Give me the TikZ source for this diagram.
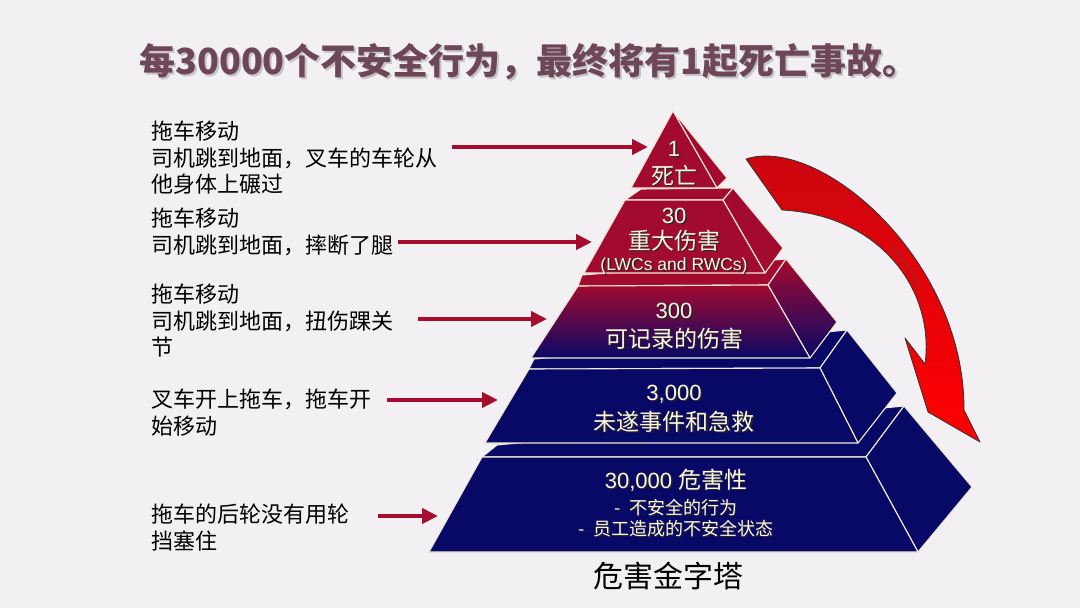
\documentclass[tikz,border=0pt]{standalone}
\usepackage{fontspec}
\setmainfont{Liberation Sans}
\newfontfamily\cjk{Noto Sans CJK SC}
\usepackage{xcolor}
\usetikzlibrary{arrows.meta}
\usetikzlibrary{math}
\definecolor{pagebg}{RGB}{242,240,242}
\definecolor{tierred}{RGB}{163,10,48}
\definecolor{tierblue}{RGB}{8,8,102}
\definecolor{edgecream}{RGB}{240,234,214}
\definecolor{titlemauve}{RGB}{110,70,90}
\definecolor{arrowred}{RGB}{165,12,45}
\definecolor{curvetop}{RGB}{200,6,16}
\definecolor{tiertext}{RGB}{252,248,228}

\tikzset{
  face/.style={draw=edgecream, line width=1.1pt, line join=round},
  pointer/.style={draw=arrowred, line width=4.5pt, -{Triangle[length=16pt,width=15pt]}},
  cause/.style={font=\cjk\fontsize{22}{26.5}\selectfont, align=left, anchor=north west, inner sep=0pt},
  tierlabel/.style={text=tiertext, inner sep=0pt, anchor=base},
  tiershadow/.style={text=black!85, inner sep=0pt, anchor=base, xshift=1.5pt, yshift=-1.5pt},
}
\newcommand{\tiertxt}[4]{%
  \node[tiershadow, font=#3] (#1s) at (#2) {#4};
  \node[tierlabel, font=#3] (#1) at (#2) {#4};}

\begin{document}
\begin{tikzpicture}[x=1pt,y=-1pt]
\tikzmath{
\cx=674;
}
\fill[pagebg] (0,0) rectangle (1080,608);
\useasboundingbox (0,0) rectangle (1080,608);

\node[anchor=base, text=gray!45, font=\cjk\bfseries\fontsize{36}{40}\selectfont, xshift=2pt, yshift=-2pt] (titles) at (529,74) {每30000个不安全行为，最终将有1起死亡事故。};
\node[anchor=base, text=titlemauve, font=\cjk\bfseries\fontsize{36}{40}\selectfont] (title) at (529,74) {每30000个不安全行为，最终将有1起死亡事故。};

% bottom tier
\draw[face, fill=tierblue] (482,457) -- (866,457) -- (904,406) -- (497,445) -- cycle;
\draw[face, fill=tierblue] (866,457) -- (904,406) -- (972,487) -- (918,552) -- cycle;
\draw[face, fill=tierblue] (482,457) -- (866,457) -- (918,552) -- (429,552) -- cycle;

\draw[face, fill=tierblue] (529,369) -- (820,368) -- (847,330) -- (534,359) -- cycle;
\draw[face, fill=tierblue] (820,368) -- (847,330) -- (897,393) -- (858,443) -- cycle;
\draw[face, fill=tierblue] (529,369) -- (820,368) -- (858,443) -- (485,443) -- cycle;

\draw[face, fill=tierred] (578,286) -- (768,285) -- (786,259) -- (582,275) -- cycle;
\draw[face, top color=tierred, bottom color=tierblue] (768,285) -- (786,259) -- (837,322) -- (810,358) -- cycle;
\draw[face, top color=tierred, bottom color=tierblue] (578,286) -- (768,285) -- (810,358) -- (531,358) -- cycle;

\draw[face, fill=tierred] (625,200) -- (723,200) -- (733,188) -- (641,189) -- cycle;
\draw[face, fill=tierred] (723,200) -- (733,188) -- (783,248) -- (765,273) -- cycle;
\draw[face, fill=tierred] (625,200) -- (723,200) -- (765,273) -- (584,273) -- cycle;

\draw[face, fill=tierred] (673,111) -- (727,178) -- (717,188) -- cycle;
\draw[face, fill=tierred] (673,111) -- (717,188) -- (631,188) -- cycle;

\tiertxt{one}{\cx,156}{\fontsize{22}{26}\selectfont}{1}
\tiertxt{death}{\cx,184}{\cjk\fontsize{23}{26}\selectfont}{死亡}
\tiertxt{thirty}{\cx,223}{\fontsize{22}{26}\selectfont}{30}
\tiertxt{major}{\cx,249}{\cjk\fontsize{23}{26}\selectfont}{重大伤害}
\tiertxt{lwc}{\cx,270}{\fontsize{17.5}{20}\selectfont}{(LWCs and RWCs)}
\tiertxt{three}{\cx,318}{\fontsize{22}{26}\selectfont}{300}
\tiertxt{record}{\cx,347}{\cjk\fontsize{23}{26}\selectfont}{可记录的伤害}
\tiertxt{thousand}{\cx,400}{\fontsize{22}{26}\selectfont}{3,000}
\tiertxt{nearmiss}{\cx,430}{\cjk\fontsize{23}{26}\selectfont}{未遂事件和急救}
\tiertxt{hazard}{676,488}{\fontsize{22}{26}\selectfont}{30,000 {\cjk\fontsize{23}{26}\selectfont 危害性}}
\tiertxt{unsafeact}{676,514}{\cjk\fontsize{18}{20}\selectfont}{-\ \ 不安全的行为}
\tiertxt{unsafestate}{676,535}{\cjk\fontsize{18}{20}\selectfont}{-\ \ 员工造成的不安全状态}

\node[anchor=base, font=\cjk\fontsize{30}{34}\selectfont] (pyrcap) at (668,587) {危害金字塔};

\draw[draw=black!80, line width=0.8pt, line join=round, top color=curvetop, bottom color=red]
  (746,159) .. controls (820,135) and (965,260) .. (964,410) -- (980,442) -- (928,412)
  -- (905,338) -- (925,364) .. controls (935,290) and (880,215) .. (782,210) -- cycle;
\draw[black!70, line width=0.6pt] (893,247) .. controls (905,262) and (915,275) .. (920,290);

\node[cause] (deathcause) at (151,121) {拖车移动\\司机跳到地面，叉车的车轮从\\他身体上碾过};
\node[cause] (legcause) at (151,208) {拖车移动\\司机跳到地面，摔断了腿};
\node[cause] (anklecause) at (151,284) {拖车移动\\司机跳到地面，扭伤踝关\\节};
\node[cause] (movecause) at (151,389) {叉车开上拖车，拖车开\\始移动};
\node[cause] (wheelcause) at (151,504) {拖车的后轮没有用轮\\挡塞住};

\coordinate (s1) at (452,147); \coordinate (t1) at (648,147);
\coordinate (s2) at (398,242); \coordinate (t2) at (592,242);
\coordinate (s3) at (418,319); \coordinate (t3) at (547,319);
\coordinate (s4) at (387,400); \coordinate (t4) at (498,400);
\coordinate (s5) at (378,516); \coordinate (t5) at (438,516);
\draw[pointer] (s1) -- (t1);
\draw[pointer] (s2) -- (t2);
\draw[pointer] (s3) -- (t3);
\draw[pointer] (s4) -- (t4);
\draw[pointer] (s5) -- (t5);
\end{tikzpicture}
\end{document}
